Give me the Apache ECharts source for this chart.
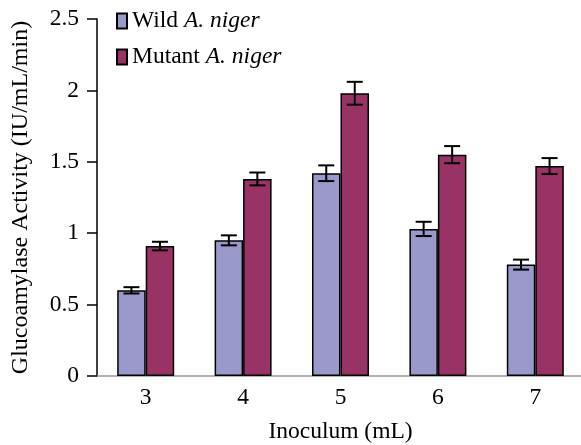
<!DOCTYPE html>
<html><head><meta charset="utf-8">
<script src="https://cdn.jsdelivr.net/npm/echarts@6/dist/echarts.min.js"></script>
<style>html,body{margin:0;padding:0;background:#fff}#c{width:581px;height:445px}</style>
</head><body><div id="c"></div>
<script>
const categories = ['3', '4', '5', '6', '7'];
const wildValues = [0.60, 0.95, 1.42, 1.03, 0.78];
const wildErrors = [0.022, 0.035, 0.055, 0.05, 0.035];
const mutantValues = [0.91, 1.38, 1.98, 1.55, 1.47];
const mutantErrors = [0.03, 0.045, 0.08, 0.06, 0.056];
const seriesNames = ['Wild A. niger', 'Mutant A. niger'];
const yTicks = [0, 0.5, 1, 1.5, 2, 2.5];

const FONT = 'Liberation Serif';
const FS = 23.5;
const BAR_W = 28.5;

function errSeries(vals, errs, side) {
  return {
    type: 'custom',
    z: 5,
    silent: true,
    data: vals.map((v, i) => [i, v, errs[i]]),
    renderItem: function (params, api) {
      const i = api.value(0), v = api.value(1), e = api.value(2);
      const top = api.coord([i, v + e]);
      const bot = api.coord([i, v - e]);
      const x = top[0] + side * BAR_W / 2;
      const hw = 8;
      const st = { stroke: '#000', lineWidth: 2 };
      return {
        type: 'group',
        children: [
          { type: 'line', shape: { x1: x, y1: top[1], x2: x, y2: bot[1] }, style: st },
          { type: 'line', shape: { x1: x - hw, y1: top[1], x2: x + hw, y2: top[1] }, style: st },
          { type: 'line', shape: { x1: x - hw, y1: bot[1], x2: x + hw, y2: bot[1] }, style: st }
        ]
      };
    }
  };
}

const chart = echarts.init(document.getElementById('c'));
chart.setOption({
  animation: false,
  textStyle: { fontFamily: FONT },
  grid: { left: 97, right: -3, top: 19, bottom: 69, containLabel: false, outerBoundsMode: 'none' },
  legend: {
    orient: 'vertical',
    left: 111,
    top: 4,
    itemWidth: 10,
    itemHeight: 15,
    itemGap: 12,
    icon: 'rect',
    data: seriesNames,
    formatter: function (name) {
      const parts = name.split(' A. ');
      return parts[0] + ' {i|A. ' + parts[1] + '}';
    },
    textStyle: {
      fontFamily: FONT, fontSize: FS, color: '#000', padding: [0, 0, 0, 0],
      rich: { i: { fontFamily: FONT, fontSize: FS, fontStyle: 'italic', color: '#000' } }
    }
  },
  xAxis: {
    type: 'category',
    data: categories,
    name: 'Inoculum (mL)',
    nameLocation: 'middle',
    nameGap: 44,
    nameTextStyle: { fontFamily: FONT, fontSize: FS, color: '#000' },
    axisLine: { lineStyle: { color: '#999', width: 1.5 } },
    axisTick: { show: false },
    axisLabel: { fontFamily: FONT, fontSize: FS, color: '#000', margin: 10 }
  },
  yAxis: {
    type: 'value',
    min: 0, max: 2.5, interval: 0.5,
    name: 'Glucoamylase Activity (IU/mL/min)',
    nameLocation: 'middle',
    nameGap: 64,
    nameTextStyle: { fontFamily: FONT, fontSize: 24, color: '#000' },
    axisLine: { show: true, lineStyle: { color: '#000', width: 1.5 } },
    axisTick: { show: true, length: 10, lineStyle: { color: '#000', width: 1.5 } },
    splitLine: { show: false },
    axisLabel: {
      fontFamily: FONT, fontSize: FS, color: '#000', margin: 18,
      formatter: function (v) { return yTicks.indexOf(v) >= 0 ? String(v) : ''; }
    }
  },
  series: [
    {
      name: seriesNames[0], type: 'bar', data: wildValues, barWidth: BAR_W, barGap: '0%',
      itemStyle: { color: '#9999CC', borderColor: '#000', borderWidth: 1.5 }
    },
    {
      name: seriesNames[1], type: 'bar', data: mutantValues, barWidth: BAR_W, barGap: '0%',
      itemStyle: { color: '#993366', borderColor: '#000', borderWidth: 1.5 }
    },
    errSeries(wildValues, wildErrors, -1),
    errSeries(mutantValues, mutantErrors, 1)
  ]
});
</script></body></html>
